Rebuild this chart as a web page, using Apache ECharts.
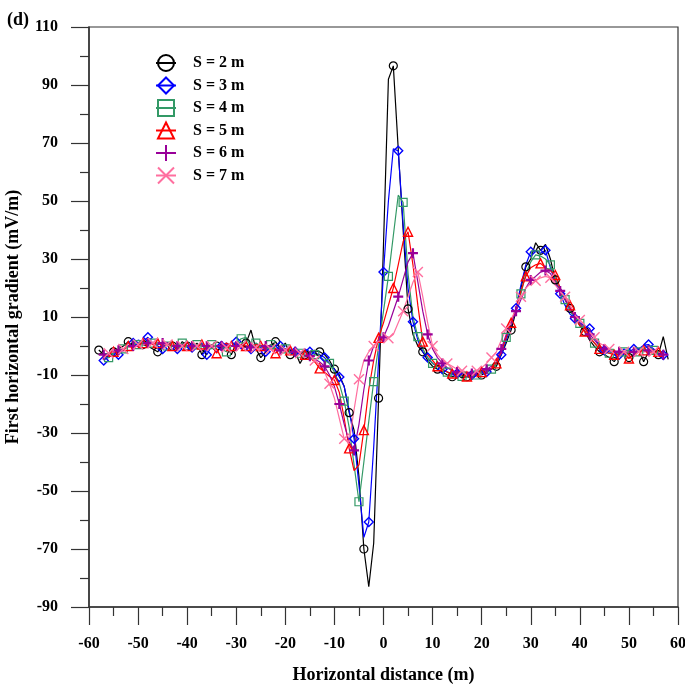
<!DOCTYPE html>
<html>
<head>
<meta charset="utf-8">
<script src="https://cdn.jsdelivr.net/npm/echarts@6/dist/echarts.min.js"></script>
<style>
  html, body { margin: 0; padding: 0; background: #fff; }
  #chart { width: 685px; height: 685px; }
</style>
</head>
<body>
<div id="chart"></div>
<script>
// horizontal distance along the profile (m)
const xs = [
  -58, -57, -56, -55, -54, -53, -52, -51, -50, -49,
  -48, -47, -46, -45, -44, -43, -42, -41, -40, -39,
  -38, -37, -36, -35, -34, -33, -32, -31, -30, -29,
  -28, -27, -26, -25, -24, -23, -22, -21, -20, -19,
  -18, -17, -16, -15, -14, -13, -12, -11, -10, -9,
  -8, -7, -6, -5, -4, -3, -2, -1, 0, 1,
  2, 3, 4, 5, 6, 7, 8, 9, 10, 11,
  12, 13, 14, 15, 16, 17, 18, 19, 20, 21,
  22, 23, 24, 25, 26, 27, 28, 29, 30, 31,
  32, 33, 34, 35, 36, 37, 38, 39, 40, 41,
  42, 43, 44, 45, 46, 47, 48, 49, 50, 51,
  52, 53, 54, 55, 56, 57, 58
];

// first horizontal gradient (mV/m) for each spacing
const s2 = [
  -1.4, -3, -4, -2, -1, 0, 1.5, -0.5, 1, 0.5,
  0, -1, -2, 0.5, 1, 0, -1, 1.5, 0, -0.5,
  1, -3, 0.5, 0, 0, -1, 0.5, -3, 1, 0,
  1, 5.5, -1, -4, -2, 0, 1.5, -1, 1, -3,
  -2, -6, -3, -2, -1.5, -2, -3, -5, -8, -10,
  -14, -23, -29, -45, -70, -83, -68, -18, 35, 92,
  96.6, 68, 40, 12.8, 4, 0, -2, -5, -7, -8,
  -9, -10, -10.6, -10, -11, -10.6, -11, -10, -10, -9,
  -8, -7, -3, 1, 5.5, 12, 20, 27.3, 30, 35.6,
  33, 35, 30, 22.8, 19, 16, 13, 10, 7, 5,
  2, -0.2, -2, -3, -4, -5.4, -3, -2, -4, -3,
  -1, -5.4, -2, -1, -3, 3.2, -4.6
];
const s3 = [
  null, -5, -3.5, -2, -3, -1, 0, 1, 2, 1.5,
  3, 1, 0, -1, 1, 0.5, -1, 0, 1, -0.5,
  0, 1, -3, 0, -2, 0, 1, 0, 1.5, -1,
  0, -1, 1, -0.5, -2, 0, -1, 0, -2, -1,
  -2, -3, -1, -2, -2.5, -3, -4, -6, -8, -10.7,
  -14, -22, -32, -48, -66, -60.7, -35, -5, 25.5, 50,
  68, 67.3, 42, 20, 8.4, 2, -2, -4, -6, -7,
  -8, -9, -10, -9.5, -10, -10.5, -10, -9.5, -9.5, -9,
  -8, -6, -3, 2, 7, 13, 21, 28, 32.5, 33,
  32, 33, 27, 22, 18, 14, 11, 9.5, 8, 7,
  6, 3, 0, -1.5, -2, -2.4, -3, -1, -2, -1,
  -1, 0.3, 0.5, -1, -2, -3.1, null
];
const s4 = [
  null, -4.5, -4, -2.5, -1.5, -1, 0, 1, 0.5, 1,
  2, 1, 0.5, 1, 0, 0.5, -0.5, 1, 0, -1,
  0.5, 0, -1, 0.5, 0, -1, -2, 0, 1, 2.5,
  3, -0.5, 1, 0, -1, 0.5, -1, -0.5, -1, -2,
  -2, -2.5, -1.5, -2, -3, -3.5, -5, -6, -9, -13,
  -19, -28, -41, -53.7, -40, -26, -12.3, 0, 12, 24,
  38, 52, 49.5, 25, 10, 3.2, -1, -4, -6, -7,
  -8, -9, -9.5, -10, -10.5, -10, -10.5, -10, -9.5, -9,
  -8, -6, -2, 3, 8, 13, 18, 25, 29, 31.4,
  31, 30, 28, 23, 19, 16, 12, 9.5, 7.8, 5,
  3, 1, -1, -2, -2.5, -2, -3, -2, -1.5, -2,
  -2, -1, 0, -1.5, -2, -3, null
];
const s5 = [
  null, -3.5, -3, -2, -2.5, -1, 0, 0.5, 0, 1,
  1, 0.5, 1, 0, 0.5, 0, -1, 0.5, 0, -0.5,
  0, 0.5, -0.5, 0, -2.5, 0, 1, 0, -0.5, 0.5,
  0, -0.5, 0.5, 0, 0.5, -1, -2.5, -1, -2, -1.5,
  -2, -2.5, -3, -4, -5.5, -7.7, -9, -10.5, -11.7, -16,
  -25, -35.3, -43, -41, -29, -15, -5, 2.8, 8, 14,
  20, 28, 36, 39.4, 28, 14, 1.5, -3, -5, -7,
  -8, -9, -9.5, -10, -10, -10.5, -10, -10, -9, -8.5,
  -8, -6, -2, 3, 8, 13, 19, 24, 27, 28,
  28.5, 27, 26, 24.5, 20, 17, 14, 10, 7, 5,
  3, 1, -1, -2, -2.5, -3, -3, -2.5, -4.3, -3,
  -2, -1.5, -2, -2.5, -2, -3, null
];
const s6 = [
  null, -3, -2.5, -2, -1.5, -1, -0.5, 0, 0.5, 0.5,
  1, 1, 0.5, 1, 0.5, 0, 0, 0.5, 0, 0,
  0, 0.5, 0, -0.5, 0, 0, 0.5, 0, 0, -0.5,
  0, -0.5, -0.5, -1, 0, -1, -1, -1.5, -1, -1.5,
  -2, -2.5, -3, -3.5, -4.5, -5.5, -7, -10, -14, -20,
  -27, -33, -36, -27, -15, -5, 0, 2, 3, 7,
  12, 17, 23, 29, 32, 22, 12, 4, -1, -4,
  -6, -7.5, -8.5, -9, -9.5, -10, -9.5, -9, -8.5, -8,
  -7, -5, -1, 4, 8, 12, 16, 20, 22.8, 24,
  25.5, 26, 25, 22, 19, 16, 13, 10, 8, 6,
  4, 2, 0, -1, -1.5, -2, -2, -2.5, -2, -2,
  -2, -1.5, -1.5, -2, -2.5, -3, null
];
const s7 = [
  null, -3, -2.5, -2, -1.5, -1, -0.5, 0, 0.5, 0.5,
  1, 1, 1, 0.5, 0.5, 0.5, 0, 0, 0, 0,
  0, 0, 0, 0, 0, 0, -0.5, 0, 0, 0,
  -0.5, -0.5, -0.5, -1, -1, -1, -1, -1.5, -1.5, -2,
  -2, -2.5, -3, -4, -5, -6.5, -9, -13, -18, -25,
  -32, -33, -22, -11.5, -5, -2, 0, 1.5, 2, 2.7,
  4, 8, 12, 17, 22, 25.5, 17, 8, 0, -3,
  -5, -6, -7, -8, -8.5, -9, -9, -8.5, -7.5, -6,
  -4, -2, 2, 6, 9, 13, 17, 20, 21.5, 22.5,
  23.5, 24, 23.5, 21, 19, 17, 14, 11, 9, 7,
  5, 3, 1, 0, -1, -1.5, -2, -2, -2, -2,
  -2, -2, -2, -2, -2, -2.5, null
];

const names = ['S = 2 m', 'S = 3 m', 'S = 4 m', 'S = 5 m', 'S = 6 m', 'S = 7 m'];
const yLabels = [-90, -70, -50, -30, -10, 10, 30, 50, 70, 90, 110];

const allY = [s2, s3, s4, s5, s6, s7];
const colors = ['#000000', '#0000ff', '#339966', '#ff0000', '#990099', '#ff6f9f'];
const symbols = [
  'circle', 'diamond', 'rect', 'triangle',
  'path://M5,0L5,10M0,5L10,5',
  'path://M0,0L10,10M10,0L0,10'
];
const symSizes = [8, 9, 8, 9, 10, 10];
const borderW = [1.2, 1.4, 1.2, 1.4, 2.2, 1.4];
// markers are drawn on every third point, offset differs per curve
const markOffset = [2, 0, 1, 2, 0, 1];

const font = 'Liberation Serif';

const series = allY.map((ys, k) => ({
  name: names[k],
  type: 'line',
  symbol: symbols[k],
  symbolSize: symSizes[k],
  showAllSymbol: true,
  lineStyle: { color: colors[k], width: 1.2 },
  itemStyle: { color: 'transparent', borderColor: colors[k], borderWidth: borderW[k] },
  emphasis: { disabled: true },
  data: xs.map((x, i) => ({
    value: [x, ys[i]],
    symbol: (((x % 3) + 3) % 3 === markOffset[k]) ? symbols[k] : 'none'
  }))
}));

const chart = echarts.init(document.getElementById('chart'));
chart.setOption({
  animation: false,
  title: {
    text: '(d)',
    left: 2,
    top: 6,
    textStyle: { fontFamily: font, fontWeight: 'bold', fontSize: 18, color: '#000' }
  },
  legend: {
    orient: 'vertical',
    left: 150,
    top: 49,
    itemWidth: 20,
    itemHeight: 20,
    itemGap: 4.5,
    data: names,
    textStyle: { fontFamily: font, fontWeight: 'bold', fontSize: 16, color: '#000', padding: [0, 0, 0, 12] }
  },
  grid: {
    left: 89, right: 7, top: 27, bottom: 78,
    containLabel: false,
    outerBoundsMode: 'none',
    show: true, borderColor: '#333', borderWidth: 1.2
  },
  xAxis: {
    type: 'value',
    min: -60, max: 60, interval: 10,
    axisLine: { show: true, onZero: false, lineStyle: { color: '#333', width: 1.5 } },
    axisTick: { show: true, length: 18, lineStyle: { color: '#333', width: 1.2 } },
    minorTick: { show: true, splitNumber: 2, length: 9, lineStyle: { color: '#333', width: 1.2 } },
    splitLine: { show: false },
    axisLabel: { fontFamily: font, fontWeight: 'bold', fontSize: 16, color: '#000', margin: 29 },
    name: 'Horizontal distance (m)',
    nameLocation: 'middle',
    nameGap: 59,
    nameTextStyle: { fontFamily: font, fontWeight: 'bold', fontSize: 18, color: '#000' }
  },
  yAxis: [
    {
      type: 'value',
      min: -90, max: 110, interval: 10,
      axisLine: { show: true, onZero: false, lineStyle: { color: '#333', width: 1.5 } },
      axisTick: { show: false },
      splitLine: { show: false },
      axisLabel: {
        fontFamily: font, fontWeight: 'bold', fontSize: 16, color: '#000', margin: 31,
        formatter: v => (yLabels.includes(v) ? String(v) : '')
      },
      name: 'First horizontal gradient (mV/m)',
      nameLocation: 'middle',
      nameGap: 67,
      nameTextStyle: { fontFamily: font, fontWeight: 'bold', fontSize: 18, color: '#000' }
    },
    {
      // tick marks only: long ticks at labelled values, short ones between
      type: 'value',
      position: 'left',
      min: -100, max: 100, interval: 20,
      axisLine: { show: false, onZero: false },
      axisLabel: { show: false },
      axisTick: { show: true, length: 18, lineStyle: { color: '#333', width: 1.2 } },
      minorTick: { show: true, splitNumber: 2, length: 9, lineStyle: { color: '#333', width: 1.2 } },
      splitLine: { show: false }
    }
  ],
  series: series
});
</script>
</body>
</html>
